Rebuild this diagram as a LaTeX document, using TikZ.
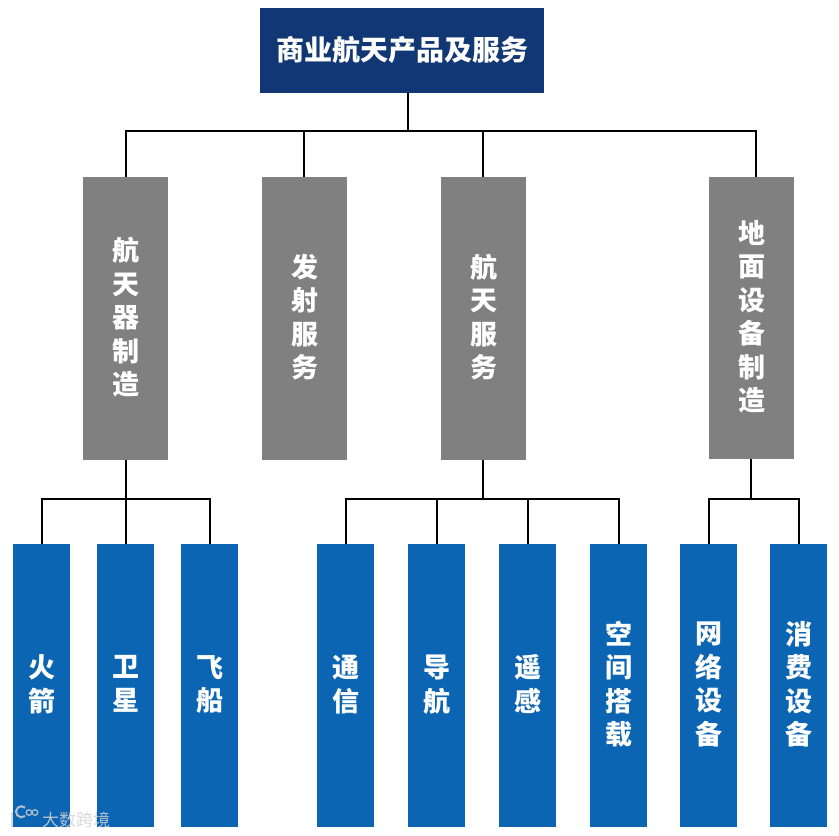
\documentclass[tikz,border=0pt]{standalone}
\usepackage{fontspec}
\newfontfamily\cjk{Noto Sans CJK SC}
\usetikzlibrary{positioning}
\definecolor{topblue}{HTML}{113874}
\definecolor{midgray}{HTML}{808080}
\definecolor{subblue}{HTML}{0C65B3}
\begin{document}
\begin{tikzpicture}[
    x=1pt, y=-1pt,
    block/.style={inner sep=0pt, outer sep=0pt, align=center, text=white, text depth=5pt, font=\cjk\bfseries\fontsize{27}{33.5}\selectfont},
    topblock/.style={block, fill=topblue, minimum width=284pt, minimum height=85pt, font=\cjk\bfseries\fontsize{28}{33.5}\selectfont},
    midblock/.style={block, fill=midgray, minimum width=85pt, minimum height=283pt},
    subblock/.style={block, fill=subblue, minimum width=57pt, minimum height=283pt},
    wire/.style={draw=black, line width=2pt},
    mark text/.style={text=gray!35, opacity=0.85, font=\cjk\fontsize{17}{17}\selectfont, inner sep=0pt}
]
\useasboundingbox (0,0) rectangle (839,836);
\node[topblock] (root) at (402,50.5) {商业航天产品及服务};
\node[midblock] (craft) at (125.5,318.5) {航\\天\\器\\制\\造};
\node[midblock, right=94pt of craft] (launch) {发\\射\\服\\务};
\node[midblock, right=94pt of launch] (space) {航\\天\\服\\务};
\node[midblock, minimum height=282pt, right=183pt of space, yshift=0.5pt] (ground) {地\\面\\设\\备\\制\\造};
\node[subblock] (rocket) at (41.5,685.5) {火\\箭};
\node[subblock, right=27pt of rocket] (satellite) {卫\\星};
\node[subblock, right=27pt of satellite] (ship) {飞\\船};
\node[subblock, right=79pt of ship] (comm) {通\\信};
\node[subblock, right=34pt of comm] (navi) {导\\航};
\node[subblock, right=34pt of navi] (sensing) {遥\\感};
\node[subblock, right=34pt of sensing] (carry) {空\\间\\搭\\载};
\node[subblock, right=33pt of carry] (network) {网\\络\\设\\备};
\node[subblock, right=33pt of network] (consumer) {消\\费\\设\\备};
% bus points
\coordinate (rootbus) at (408,131);
\coordinate (launchtop) at (304,177);
\coordinate (spacetop) at (483,177);
\coordinate (groundtop) at (756,177);
\coordinate (craftbus) at (126,498.5);
\coordinate (spacebus) at (483,498.5);
\coordinate (groundbus) at (751,498.5);
% top level
\draw[wire] (root.south -| rootbus) -- (rootbus);
\draw[wire] (rootbus) -| (craft);
\draw[wire] (rootbus) -| (launchtop);
\draw[wire] (rootbus) -| (spacetop);
\draw[wire] (rootbus) -| (groundtop);
% lower level
\draw[wire] (craft.south -| craftbus) -- (craftbus);
\draw[wire] (craftbus) -| (rocket);
\draw[wire] (craftbus) -- (satellite.north -| craftbus);
\draw[wire] (craftbus) -| (ship);
\draw[wire] (space.south -| spacebus) -- (spacebus);
\draw[wire] (spacebus) -| (comm);
\draw[wire] (spacebus) -| (navi);
\draw[wire] (spacebus) -| (sensing);
\draw[wire] (spacebus) -| (carry);
\draw[wire] (ground.south -| groundbus) -- (groundbus);
\draw[wire] (groundbus) -| (network);
\draw[wire] (groundbus) -| (consumer);
% watermark
\node[mark text, anchor=west] (marktext) at (42,820) {大数跨境};
\draw[gray!35, opacity=0.85, line width=2pt] (25,816) arc (50:310:5.5);
\draw[gray!35, opacity=0.85, line width=2pt] (12,812) -- (12,827);
\draw[gray!35, opacity=0.85, line width=1.2pt] (29,812.5) circle (2.8) (35,812.5) circle (2.8);
\end{tikzpicture}
\end{document}
